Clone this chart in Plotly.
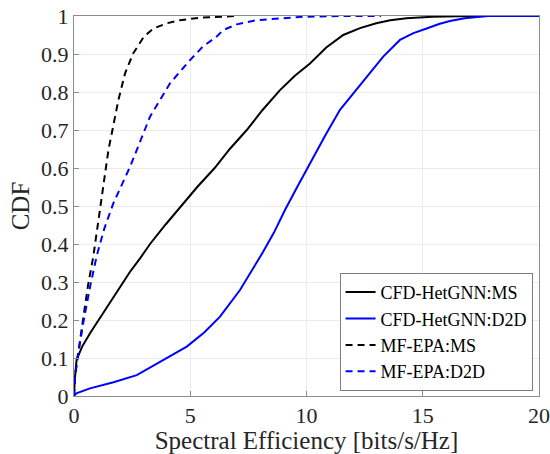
import plotly.graph_objects as go

# CFD-HetGNN:MS (black solid)
ms_gnn_x = [0, 0.03, 0.11, 0.35, 0.69, 1.26, 1.75, 2.41, 2.85, 3.27, 3.95, 4.6, 5.3, 6.05, 6.7, 7.43, 8.1, 8.86, 9.5, 10.15, 10.85, 11.58, 12.3, 13.0, 13.6, 14.3, 15.4, 16.5, 17.8]
ms_gnn_y = [0, 0.04, 0.095, 0.13, 0.165, 0.218, 0.265, 0.327, 0.363, 0.4, 0.452, 0.5, 0.55, 0.6, 0.65, 0.7, 0.752, 0.805, 0.843, 0.875, 0.917, 0.95, 0.968, 0.981, 0.989, 0.994, 0.998, 0.9995, 1.0]

# CFD-HetGNN:D2D (blue solid)
d2d_gnn_x = [0, 0.1, 0.69, 1.7, 2.7, 3.85, 4.85, 5.6, 6.28, 7.14, 7.6, 8.14, 8.6, 9.08, 9.6, 10.15, 10.8, 11.44, 12.44, 13.3, 14.02, 14.6, 15.17, 15.7, 16.17, 16.8, 17.8, 20.0]
d2d_gnn_y = [0, 0.007, 0.02, 0.036, 0.055, 0.095, 0.13, 0.167, 0.209, 0.279, 0.325, 0.38, 0.43, 0.49, 0.55, 0.612, 0.685, 0.753, 0.827, 0.893, 0.937, 0.955, 0.967, 0.979, 0.987, 0.994, 1.0, 1.0]

# MF-EPA:MS (black dashed)
ms_epa_x = [0, 0.04, 0.15, 0.4, 0.6, 0.83, 1.12, 1.3, 1.48, 1.91, 2.2, 2.55, 3.0, 3.41, 4.0, 4.56, 5.5, 7.0]
ms_epa_y = [0, 0.05, 0.1, 0.2, 0.29, 0.367, 0.498, 0.58, 0.647, 0.779, 0.85, 0.902, 0.945, 0.967, 0.981, 0.989, 0.996, 1.0]

# MF-EPA:D2D (blue dashed)
d2d_epa_x = [0, 0.04, 0.15, 0.42, 0.7, 0.97, 1.3, 1.69, 2.41, 3.27, 4.13, 4.99, 5.55, 6.14, 6.42, 7.0, 7.86, 9.85, 11.5, 13.2]
d2d_epa_y = [0, 0.05, 0.1, 0.2, 0.29, 0.367, 0.44, 0.507, 0.603, 0.735, 0.823, 0.884, 0.92, 0.946, 0.963, 0.978, 0.989, 0.998, 1.0, 1.0]

x_ticks = [0, 5, 10, 15, 20]
y_ticks = [0, 0.1, 0.2, 0.3, 0.4, 0.5, 0.6, 0.7, 0.8, 0.9, 1]
y_tick_labels = ["0", "0.1", "0.2", "0.3", "0.4", "0.5", "0.6", "0.7", "0.8", "0.9", "1"]

font = "Liberation Serif, Times New Roman, serif"

fig = go.Figure()
fig.add_trace(go.Scatter(x=ms_gnn_x, y=ms_gnn_y, mode="lines", name="CFD-HetGNN:MS",
                         line=dict(color="black", width=2)))
fig.add_trace(go.Scatter(x=d2d_gnn_x, y=d2d_gnn_y, mode="lines", name="CFD-HetGNN:D2D",
                         line=dict(color="#0000ff", width=2)))
fig.add_trace(go.Scatter(x=ms_epa_x, y=ms_epa_y, mode="lines", name="MF-EPA:MS",
                         line=dict(color="black", width=2, dash="7px,5px")))
fig.add_trace(go.Scatter(x=d2d_epa_x, y=d2d_epa_y, mode="lines", name="MF-EPA:D2D",
                         line=dict(color="#0000ff", width=2, dash="7px,5px")))

axis_common = dict(showline=True, linecolor="#8c8c8c", linewidth=1, mirror=True,
                   ticks="inside", ticklen=5, tickcolor="#8c8c8c",
                   showgrid=True, gridcolor="#ebebeb", gridwidth=1, zeroline=False,
                   automargin=False, ticklabeloverflow="allow",
                   tickfont=dict(family=font, size=22, color="#262626"))

fig.update_layout(
    width=550, height=454,
    margin=dict(l=74, r=11, t=16, b=58),
    paper_bgcolor="white", plot_bgcolor="white",
    font=dict(family=font, color="#262626"),
    xaxis=dict(range=[0, 20], tickvals=x_ticks, ticktext=[str(v) for v in x_ticks],
               title=dict(text="Spectral Efficiency [bits/s/Hz]", font=dict(family=font, size=25, color="#262626"), standoff=1),
               **axis_common),
    yaxis=dict(range=[0, 1], tickvals=y_ticks, ticktext=y_tick_labels,
               title=dict(text="CDF", font=dict(family=font, size=25, color="#262626"), standoff=4),
               **axis_common),
    legend=dict(x=0.987, y=0.015, xanchor="right", yanchor="bottom",
                bgcolor="white", bordercolor="#262626", borderwidth=0.6,
                font=dict(family=font, size=18, color="black"),
                tracegroupgap=0, itemwidth=30),
    showlegend=True,
)

# remove the page's default 8px body margin so the figure sits at the corner
fig.write_html("out.html", config={"displayModeBar": False},
               post_script="document.body.style.margin='0';")
